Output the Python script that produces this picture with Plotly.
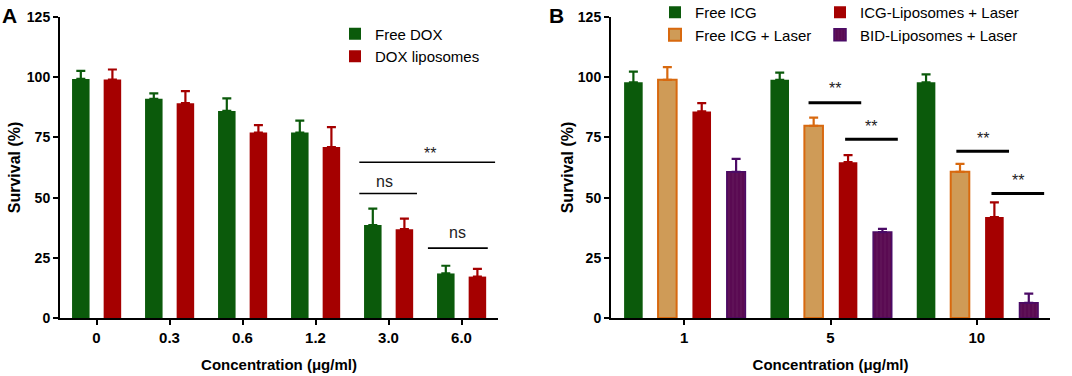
import plotly.graph_objects as go

# ---------------- data ----------------
conc_a = ["0", "0.3", "0.6", "1.2", "3.0", "6.0"]
free_dox = [99.3, 91.0, 86.0, 77.0, 38.6, 18.5]
free_dox_err = [3.3, 2.3, 5.2, 5.0, 6.8, 3.2]
dox_lipo = [99.0, 89.2, 77.0, 71.0, 36.9, 17.2]
dox_lipo_err = [4.2, 5.0, 3.1, 8.3, 4.4, 3.2]

conc_b = ["1", "5", "10"]
free_icg = [97.9, 98.9, 97.9]
free_icg_err = [4.4, 3.0, 3.3]
free_icg_laser = [98.9, 79.8, 60.7]
free_icg_laser_err = [5.3, 3.4, 3.3]
icg_lipo_laser = [85.8, 64.7, 41.9]
icg_lipo_laser_err = [3.4, 2.9, 6.1]
bid_lipo_laser = [60.7, 35.7, 6.3]
bid_lipo_laser_err = [5.4, 1.3, 3.8]

# significance brackets: (x0, x1, y, label_x, label_y, text)
sig_a = [
    (3.60, 5.46, 64.7, 4.57, 63.8, "**"),
    (3.60, 4.39, 51.7, 3.95, 52.3, "ns"),
    (4.54, 5.36, 29.0, 4.95, 31.0, "ns"),
]
sig_b = [
    (0.85, 1.21, 89.4, 1.03, 90.9, "**"),
    (1.10, 1.46, 74.2, 1.28, 75.1, "**"),
    (1.86, 2.22, 69.3, 2.04, 70.2, "**"),
    (2.10, 2.46, 51.7, 2.28, 52.6, "**"),
]

FONT = "Liberation Sans, Arial, sans-serif"
GREEN = "#0b5a0b"
RED = "#a50000"
ORANGE_FILL = "#cf9b57"
ORANGE_LINE = "#d8690f"
PURPLE = "#5a0a52"
PURPLE_LINE = "#4b0b66"

fig = go.Figure()

def add_bar(x, y, err, name, color, line_color, xa, ya, offset, width, legend,
            line_w=0, pattern=None):
    marker = dict(color=color, line=dict(color=line_color, width=line_w))
    if pattern:
        marker["pattern"] = pattern
    fig.add_trace(go.Bar(
        x=x, y=y, name=name, xaxis=xa, yaxis=ya, offset=offset, width=width,
        marker=marker, legend=legend,
        error_y=dict(type="data", symmetric=False, array=err,
                     arrayminus=[0] * len(err), color=line_color,
                     thickness=2.2, width=4.5),
    ))

wa = 0.24
add_bar(conc_a, free_dox, free_dox_err, "Free DOX", GREEN, GREEN, "x", "y",
        -0.215 - wa / 2, wa, "legend")
add_bar(conc_a, dox_lipo, dox_lipo_err, "DOX liposomes", RED, RED, "x", "y",
        0.218 - wa / 2, wa, "legend")

wb = 0.127
add_bar(conc_b, free_icg, free_icg_err, "Free ICG", GREEN, GREEN, "x2", "y2",
        -0.347 - wb / 2, wb, "legend2")
add_bar(conc_b, free_icg_laser, free_icg_laser_err, "Free ICG + Laser",
        ORANGE_FILL, ORANGE_LINE, "x2", "y2", -0.115 - wb / 2, wb, "legend2",
        line_w=2)
add_bar(conc_b, icg_lipo_laser, icg_lipo_laser_err, "ICG-Liposomes + Laser",
        RED, RED, "x2", "y2", 0.120 - wb / 2, wb, "legend3")
add_bar(conc_b, bid_lipo_laser, bid_lipo_laser_err, "BID-Liposomes + Laser",
        PURPLE, PURPLE_LINE, "x2", "y2", 0.355 - wb / 2, wb, "legend3",
        line_w=1.5,
        pattern=dict(shape="|", fgcolor="#6e2a68", size=4, solidity=0.25))

shapes = []
annotations = []
for (x0, x1, y, lx, ly, t) in sig_a:
    shapes.append(dict(type="line", xref="x", yref="y", x0=x0, x1=x1, y0=y, y1=y,
                       line=dict(color="black", width=1.6)))
    annotations.append(dict(xref="x", yref="y", x=lx, y=ly, text=t, showarrow=False,
                            xanchor="center", yanchor="bottom",
                            font=dict(family=FONT, size=16, color="#222")))
for (x0, x1, y, lx, ly, t) in sig_b:
    shapes.append(dict(type="line", xref="x2", yref="y2", x0=x0, x1=x1, y0=y, y1=y,
                       line=dict(color="black", width=3)))
    annotations.append(dict(xref="x2", yref="y2", x=lx, y=ly, text=t, showarrow=False,
                            xanchor="center", yanchor="bottom",
                            font=dict(family=FONT, size=16, color="#222")))

annotations.append(dict(xref="paper", yref="paper", x=0.0, y=1.05, text="<b>A</b>",
                        showarrow=False, xanchor="left", yanchor="top",
                        font=dict(family=FONT, size=21, color="black")))
annotations.append(dict(xref="paper", yref="paper", x=547 / 1072, y=1.05, text="<b>B</b>",
                        showarrow=False, xanchor="left", yanchor="top",
                        font=dict(family=FONT, size=21, color="black")))

def yaxis_common(standoff):
    return dict(range=[0, 125], tickvals=[0, 25, 50, 75, 100, 125],
                showline=True, linewidth=2, linecolor="black",
                ticks="outside", ticklen=5, tickwidth=2, tickcolor="black",
                showgrid=False, zeroline=False, automargin=False,
                tickfont=dict(family=FONT, size=14, color="black", weight="bold"),
                title=dict(text="<b>Survival (%)</b>", standoff=standoff,
                           font=dict(family=FONT, size=16, color="black")))

xaxis_common = dict(showline=True, linewidth=2, linecolor="black",
                    ticks="outside", ticklen=5, tickwidth=2, tickcolor="black",
                    showgrid=False, zeroline=False, type="category", automargin=False,
                    tickfont=dict(family=FONT, size=15, color="black", weight="bold"),
                    title=dict(text="<b>Concentration (\u03bcg/ml)</b>", standoff=14,
                               font=dict(family=FONT, size=15, color="black")))

legend_common = dict(font=dict(family=FONT, size=15, color="black"),
                     bgcolor="rgba(0,0,0,0)", orientation="v",
                     xanchor="left", yanchor="top", itemclick=False)

fig.update_layout(
    width=1072, height=376,
    margin=dict(l=0, r=0, t=17, b=58, autoexpand=False),
    paper_bgcolor="white", plot_bgcolor="white",
    xaxis=dict(domain=[60 / 1072, 498 / 1072], range=[-0.5, 5.5], anchor="y",
               **xaxis_common),
    yaxis=dict(domain=[0, 1], anchor="x", **yaxis_common(2)),
    xaxis2=dict(domain=[611 / 1072, 1050 / 1072], range=[-0.5, 2.5], anchor="y2",
                **xaxis_common),
    yaxis2=dict(domain=[0, 1], anchor="x2", **yaxis_common(0)),
    legend=dict(x=335 / 1072, y=(318 - 17.5) / 301, **legend_common),
    legend2=dict(x=655 / 1072, y=(318 + 4) / 301, **legend_common),
    legend3=dict(x=820 / 1072, y=(318 + 4) / 301, **legend_common),
    shapes=shapes,
    annotations=annotations,
    showlegend=True,
)

fig.write_html("out.html", config={"displayModeBar": False},
               post_script="document.body.style.margin='0';document.body.style.overflow='hidden';")
